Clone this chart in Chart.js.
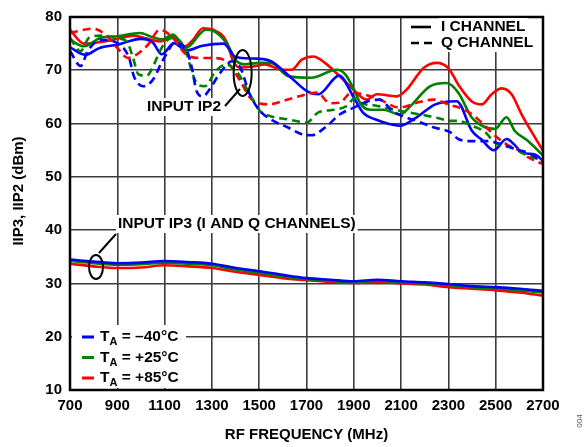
<!DOCTYPE html>
<html>
<head>
<meta charset="utf-8">
<script src="https://cdn.jsdelivr.net/npm/chart.js@4.4.1/dist/chart.umd.min.js"></script>
<style>
  html, body { margin: 0; padding: 0; background: #fff; }
</style>
</head>
<body>
<canvas id="chart" width="587" height="447"></canvas>
<script>
// IIP2, I channel (solid)
const iM40Freq = [700, 765, 825, 900, 1000, 1050, 1088, 1140, 1192, 1260, 1350, 1400, 1475, 1545, 1630, 1705, 1750, 1838, 1900, 1940, 1990, 2095, 2160, 2245, 2335, 2400, 2440, 2492, 2546, 2580, 2612, 2665, 2700];
const iM40 = [74.3, 72.9, 74.2, 74.8, 75.9, 75.2, 73.0, 75.1, 73.7, 74.6, 75.0, 72.5, 72.2, 71.8, 68.8, 66.0, 65.5, 69.0, 64.9, 62.0, 60.8, 59.6, 61.0, 63.6, 64.2, 58.6, 57.0, 55.0, 57.1, 56.0, 54.5, 54.2, 53.0];
const iP25Freq = [700, 760, 830, 900, 995, 1050, 1088, 1135, 1190, 1275, 1310, 1362, 1405, 1435, 1500, 1550, 1623, 1720, 1828, 1865, 1905, 1930, 1970, 2025, 2095, 2140, 2222, 2292, 2342, 2398, 2455, 2497, 2546, 2581, 2638, 2700];
const iP25 = [75.7, 74.5, 76.1, 76.4, 77.0, 76.2, 75.8, 76.7, 74.2, 77.6, 77.3, 75.1, 71.7, 71.1, 71.4, 71.4, 68.9, 68.6, 70.1, 69.2, 66.0, 63.6, 62.6, 62.6, 61.7, 63.3, 67.0, 67.6, 65.8, 61.2, 59.3, 59.0, 61.2, 58.6, 56.7, 54.0];
const iP85Freq = [700, 760, 830, 900, 970, 1020, 1080, 1135, 1186, 1220, 1262, 1305, 1362, 1390, 1420, 1475, 1524, 1595, 1637, 1680, 1729, 1778, 1833, 1884, 1954, 1997, 2081, 2124, 2194, 2250, 2300, 2342, 2398, 2441, 2483, 2525, 2567, 2610, 2666, 2700];
const iP85 = [77.6, 75.0, 75.3, 75.9, 76.5, 76.0, 75.4, 76.3, 74.5, 75.7, 77.9, 77.6, 75.4, 71.7, 70.5, 70.7, 71.1, 70.1, 70.1, 72.0, 72.6, 71.4, 69.2, 67.0, 64.5, 65.5, 65.1, 66.4, 70.4, 71.4, 70.4, 67.3, 64.2, 63.6, 65.5, 66.6, 65.5, 61.7, 57.4, 54.9];

// IIP2, Q channel (dashed)
const qM40Freq = [700, 745, 775, 830, 900, 950, 970, 1010, 1050, 1090, 1110, 1140, 1195, 1215, 1235, 1262, 1290, 1330, 1385, 1420, 1460, 1503, 1560, 1620, 1680, 1720, 1780, 1840, 1900, 1960, 2010, 2060, 2100, 2166, 2236, 2307, 2342, 2398, 2470, 2525, 2581, 2638, 2700];
const qM40 = [73.6, 70.8, 73.6, 75.7, 75.1, 72.3, 68.9, 67.0, 68.2, 71.7, 73.2, 75.1, 73.6, 70.5, 66.1, 65.1, 66.4, 69.2, 71.7, 70.5, 65.5, 62.4, 60.5, 59.3, 58.0, 57.8, 59.3, 61.7, 63.0, 64.2, 64.5, 62.5, 61.5, 60.5, 59.3, 58.4, 57.1, 56.7, 56.7, 56.1, 55.2, 54.5, 52.8];
const qP25Freq = [700, 745, 780, 830, 900, 940, 965, 990, 1025, 1055, 1080, 1105, 1140, 1190, 1210, 1240, 1270, 1315, 1360, 1405, 1460, 1503, 1546, 1620, 1700, 1750, 1820, 1870, 1905, 1930, 2000, 2095, 2180, 2250, 2307, 2342, 2398, 2455, 2497, 2567, 2625, 2700];
const qP25 = [76.1, 73.6, 76.1, 76.5, 76.0, 75.4, 72.6, 69.2, 69.0, 71.1, 73.6, 75.4, 76.1, 73.6, 70.5, 67.3, 67.0, 69.8, 71.1, 69.8, 65.5, 62.4, 61.4, 60.8, 60.2, 62.1, 62.6, 63.3, 64.8, 63.9, 63.3, 62.4, 61.7, 61.1, 60.5, 60.5, 59.6, 58.4, 56.4, 55.5, 54.2, 53.0];
const qP85Freq = [700, 795, 850, 900, 945, 990, 1030, 1080, 1135, 1190, 1250, 1305, 1360, 1420, 1460, 1490, 1540, 1620, 1700, 1745, 1800, 1840, 1890, 1950, 2000, 2095, 2166, 2236, 2300, 2377, 2433, 2490, 2546, 2600, 2640, 2700];
const qP85 = [77.0, 77.8, 76.7, 74.2, 72.3, 73.2, 74.8, 77.6, 76.1, 73.0, 72.3, 72.3, 71.7, 68.0, 64.9, 64.0, 63.6, 64.5, 65.5, 65.8, 63.8, 63.9, 65.8, 65.4, 64.7, 63.0, 63.9, 64.5, 63.6, 62.4, 60.5, 58.0, 56.1, 54.9, 53.6, 52.4];

// IIP3 (I and Q channels)
const ip3Freq = [700, 800, 900, 1000, 1100, 1200, 1300, 1400, 1500, 1600, 1700, 1800, 1900, 2000, 2100, 2200, 2300, 2400, 2500, 2600, 2700];
const ip3M40 = [34.5, 34.1, 33.8, 33.9, 34.2, 34.0, 33.7, 32.9, 32.3, 31.6, 31.0, 30.7, 30.4, 30.7, 30.4, 30.2, 29.9, 29.5, 29.3, 29.0, 28.6];
const ip3P25 = [34.2, 33.8, 33.5, 33.6, 33.9, 33.7, 33.4, 32.6, 32.0, 31.3, 30.8, 30.5, 30.2, 30.5, 30.2, 30.0, 29.7, 29.3, 29.1, 28.7, 28.3];
const ip3P85 = [33.7, 33.2, 32.9, 33.0, 33.4, 33.2, 32.9, 32.2, 31.6, 31.0, 30.6, 30.3, 30.1, 30.3, 30.0, 29.8, 29.3, 29.0, 28.7, 28.3, 27.7];

const tempLabels = ['= \u201340\u00b0C', '= +25\u00b0C', '= +85\u00b0C'];
const tempColors = ['#0000ff', '#008000', '#ff0000'];

const FONT = '"Liberation Sans", Arial, sans-serif';

function series(freqs, vals, color, dashed) {
  return {
    data: freqs.map((f, i) => ({ x: f, y: vals[i] })),
    borderColor: color,
    borderWidth: 2.6,
    borderDash: dashed ? [8, 5] : [],
    pointRadius: 0,
    cubicInterpolationMode: 'monotone',
    fill: false
  };
}

// text with white background box
function boxText(ctx, text, x, y) {
  const w = ctx.measureText(text).width;
  ctx.fillStyle = '#fff';
  ctx.fillRect(x - 2, y - 9, w + 4, 18);
  ctx.fillStyle = '#000';
  ctx.fillText(text, x, y);
}

const overlay = {
  id: 'overlay',
  afterDraw(chart) {
    const { ctx, chartArea: a, scales: { x, y } } = chart;
    ctx.save();

    // frame
    ctx.strokeStyle = '#000';
    ctx.lineWidth = 2.5;
    ctx.strokeRect(a.left, a.top, a.right - a.left, a.bottom - a.top);

    ctx.textBaseline = 'middle';
    ctx.textAlign = 'left';

    // I / Q channel key, top right
    ctx.font = 'bold 15.5px ' + FONT;
    boxText(ctx, 'I CHANNEL', 441, 27);
    boxText(ctx, 'Q CHANNEL', 441, 43);
    ctx.strokeStyle = '#000';
    ctx.lineWidth = 2.6;
    ctx.beginPath();
    ctx.moveTo(411, 27); ctx.lineTo(431, 27);
    ctx.stroke();
    ctx.setLineDash([8, 5]);
    ctx.beginPath();
    ctx.moveTo(411, 43); ctx.lineTo(434, 43);
    ctx.stroke();
    ctx.setLineDash([]);

    // temperature key, bottom left
    ctx.fillStyle = '#fff';
    ctx.fillRect(a.left + 2, 325, 114, a.bottom - 327);
    tempLabels.forEach((lab, i) => {
      const yc = 337 + i * 20.5;
      ctx.strokeStyle = tempColors[i];
      ctx.lineWidth = 3;
      ctx.beginPath();
      ctx.moveTo(82, yc); ctx.lineTo(94, yc);
      ctx.stroke();
      ctx.fillStyle = '#000';
      ctx.font = 'bold 15.5px ' + FONT;
      ctx.fillText('T', 100, yc);
      let w = ctx.measureText('T').width;
      ctx.font = 'bold 11px ' + FONT;
      ctx.fillText('A', 100 + w, yc + 5);
      w += ctx.measureText('A').width;
      ctx.font = 'bold 15.5px ' + FONT;
      ctx.fillText(' ' + lab, 100 + w, yc);
    });

    // INPUT IP2 annotation
    ctx.font = 'bold 15.5px ' + FONT;
    boxText(ctx, 'INPUT IP2', 147, 107);
    ctx.strokeStyle = '#000';
    ctx.lineWidth = 2;
    ctx.beginPath();
    ctx.ellipse(x.getPixelForValue(1430), y.getPixelForValue(69.5), 9, 23, 0, 0, Math.PI * 2);
    ctx.stroke();
    ctx.beginPath();
    ctx.moveTo(225, 106); ctx.lineTo(240, 89);
    ctx.stroke();

    // INPUT IP3 annotation
    boxText(ctx, 'INPUT IP3 (I AND Q CHANNELS)', 118, 224);
    ctx.beginPath();
    ctx.ellipse(x.getPixelForValue(810), y.getPixelForValue(33.1), 7, 12, 0, 0, Math.PI * 2);
    ctx.stroke();
    ctx.beginPath();
    ctx.moveTo(99, 253); ctx.lineTo(116, 234);
    ctx.stroke();

    // axis titles
    ctx.fillStyle = '#000';
    ctx.font = 'bold 15px ' + FONT;
    ctx.textAlign = 'center';
    ctx.fillText('RF FREQUENCY (MHz)', (a.left + a.right) / 2, 435);
    ctx.save();
    ctx.translate(19, 191);
    ctx.rotate(-Math.PI / 2);
    ctx.fillText('IIP3, IIP2 (dBm)', 0, 0);
    ctx.restore();

    // figure number
    ctx.save();
    ctx.translate(580, 421);
    ctx.rotate(-Math.PI / 2);
    ctx.font = '8px ' + FONT;
    ctx.fillStyle = '#555';
    ctx.fillText('004', 0, 0);
    ctx.restore();

    ctx.restore();
  }
};

new Chart(document.getElementById('chart').getContext('2d'), {
  type: 'line',
  data: {
    datasets: [
      series(qM40Freq, qM40, tempColors[0], true),
      series(qP25Freq, qP25, tempColors[1], true),
      series(qP85Freq, qP85, tempColors[2], true),
      series(iM40Freq, iM40, tempColors[0], false),
      series(iP25Freq, iP25, tempColors[1], false),
      series(iP85Freq, iP85, tempColors[2], false),
      series(ip3Freq, ip3M40, tempColors[0], false),
      series(ip3Freq, ip3P25, tempColors[1], false),
      series(ip3Freq, ip3P85, tempColors[2], false)
    ]
  },
  options: {
    responsive: false,
    animation: false,
    layout: { padding: { top: 12, right: 44, left: 0, bottom: 0 } },
    plugins: {
      legend: { display: false },
      tooltip: { enabled: false }
    },
    scales: {
      x: {
        type: 'linear',
        min: 700,
        max: 2700,
        afterFit: (s) => { s.height = 57; },
        ticks: {
          stepSize: 200,
          color: '#000',
          padding: 7,
          callback: (v) => String(v),
          font: { family: FONT, size: 15, weight: 'bold' }
        },
        grid: { color: '#3c3c3c', lineWidth: 1.6, drawTicks: false },
        border: { display: false }
      },
      y: {
        min: 10,
        max: 80,
        afterFit: (s) => { s.width = 70; },
        ticks: {
          stepSize: 10,
          color: '#000',
          padding: 8,
          font: { family: FONT, size: 15, weight: 'bold' }
        },
        grid: { color: '#3c3c3c', lineWidth: 1.6, drawTicks: false },
        border: { display: false }
      }
    }
  },
  plugins: [overlay]
});
</script>
</body>
</html>
